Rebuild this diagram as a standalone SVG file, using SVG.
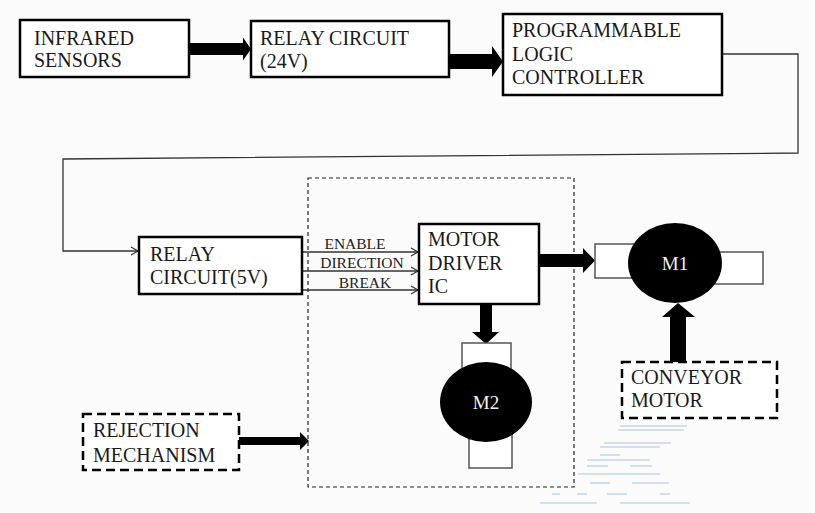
<svg xmlns="http://www.w3.org/2000/svg" width="815" height="513" viewBox="0 0 815 513">
  <defs>
    <marker id="open" markerUnits="userSpaceOnUse" markerWidth="9" markerHeight="10" refX="7" refY="4" orient="auto" overflow="visible">
      <path d="M0,0 L7,4 L0,8" fill="none" stroke="#333" stroke-width="1.2"/>
    </marker>
    <style>
      .box { fill: #ffffff; stroke: #000; stroke-width: 2.5; }
      .dbox { fill: #ffffff; stroke: #000; stroke-width: 2.5; stroke-dasharray: 9 5; }
      .frame { fill: none; stroke: #222; stroke-width: 1.2; stroke-dasharray: 4 3; }
      .thin { fill: none; stroke: #333; stroke-width: 1.3; }
      .fat { fill: #000; stroke: none; }
      .mrect { fill: #fff; stroke: #555; stroke-width: 1.5; }
      text { font-family: "Liberation Serif", "DejaVu Serif", "Times New Roman", serif; }
      .lbl { font-size: 20px; fill: #1a1a1a; }
      .sig { font-size: 15.5px; fill: #222; text-anchor: middle; }
      .mot { font-size: 19px; fill: #f2f2f2; text-anchor: middle; }
      .wm { stroke: #c3d6ee; stroke-width: 1.6; fill: none; }
    </style>
  </defs>

  <rect x="0" y="0" width="815" height="513" fill="#fbfbfb"/>

  <!-- dashed enclosure around driver and M2 -->
  <rect class="frame" x="308" y="178" width="266" height="309"/>

  <!-- connectors -->
  <g id="connectors">
    <path class="fat" d="M189,43 H243 V37.5 L251,49 L243,60.5 V55 H189 Z"/>
    <path class="fat" d="M449,54 H492 V46 L503,61.5 L492,77 V69 H449 Z"/>
    <polyline class="thin" points="722,54 798,54 798,153 63,159 63,251 138,251" marker-end="url(#open)"/>
    <line class="thin" x1="302" y1="252" x2="418" y2="252" marker-end="url(#open)"/>
    <line class="thin" x1="302" y1="271" x2="418" y2="271" marker-end="url(#open)"/>
    <line class="thin" x1="302" y1="290" x2="418" y2="290" marker-end="url(#open)"/>
    <text class="sig" x="355" y="249">ENABLE</text>
    <text class="sig" x="362" y="268">DIRECTION</text>
    <text class="sig" x="365" y="288">BREAK</text>
    <path class="fat" d="M539,254 H583 V248 L595,260.5 L583,273 V267 H539 Z"/>
    <path class="fat" d="M480,303 V332 H472 L486,344 L499,332 H492 V303 Z"/>
    <path class="fat" d="M670,362 V317 H662 L678,303 L695,317 H686 V362 Z"/>
    <path class="fat" d="M239,437 H300 V432 L309,441 L300,450 V445 H239 Z"/>
  </g>

  <g id="infrared">
    <rect class="box" x="20" y="20" width="169" height="57"/>
    <text class="lbl" x="34" y="45">INFRARED</text>
    <text class="lbl" x="34" y="67">SENSORS</text>
  </g>

  <g id="relay24">
    <rect class="box" x="251" y="21" width="198" height="56"/>
    <text class="lbl" x="260" y="45">RELAY CIRCUIT</text>
    <text class="lbl" x="260" y="68">(24V)</text>
  </g>

  <g id="plc">
    <rect class="box" x="503" y="14" width="219" height="81"/>
    <text class="lbl" x="512" y="37">PROGRAMMABLE</text>
    <text class="lbl" x="512" y="61">LOGIC</text>
    <text class="lbl" x="512" y="84">CONTROLLER</text>
  </g>

  <g id="relay5">
    <rect class="box" x="139" y="237" width="163" height="57"/>
    <text class="lbl" x="150" y="261">RELAY</text>
    <text class="lbl" x="150" y="284">CIRCUIT(5V)</text>
  </g>

  <g id="driver">
    <rect class="box" x="419" y="224" width="120" height="80"/>
    <text class="lbl" x="428" y="246">MOTOR</text>
    <text class="lbl" x="428" y="270">DRIVER</text>
    <text class="lbl" x="428" y="293">IC</text>
  </g>

  <g id="m1">
    <rect class="mrect" x="595" y="244" width="60" height="34"/>
    <rect class="mrect" x="700" y="252" width="63" height="32"/>
    <ellipse cx="675" cy="263" rx="47" ry="40" fill="#000"/>
    <text class="mot" x="675" y="270">M1</text>
  </g>

  <g id="m2">
    <rect class="mrect" x="462" y="343" width="49" height="40"/>
    <rect class="mrect" x="469" y="420" width="43" height="48"/>
    <ellipse cx="486" cy="402" rx="46" ry="40" fill="#000"/>
    <text class="mot" x="486" y="409">M2</text>
  </g>

  <g id="conveyor">
    <rect class="dbox" x="622" y="362" width="155" height="56"/>
    <text class="lbl" x="631" y="384">CONVEYOR</text>
    <text class="lbl" x="631" y="407">MOTOR</text>
  </g>

  <g id="rejection">
    <rect class="dbox" x="83" y="414" width="156" height="56"/>
    <text class="lbl" x="93" y="437">REJECTION</text>
    <text class="lbl" x="93" y="462">MECHANISM</text>
  </g>

  <!-- faint blue stripe mark, lower right -->
  <g class="wm">
    <line x1="620" y1="426" x2="687" y2="426"/>
    <line x1="618" y1="430" x2="684" y2="430"/>
    <line x1="604" y1="443" x2="671" y2="443"/>
    <line x1="600" y1="447" x2="660" y2="447"/>
    <line x1="600" y1="455" x2="620" y2="455"/>
    <line x1="587" y1="460" x2="650" y2="460"/>
    <line x1="587" y1="466" x2="608" y2="466"/>
    <line x1="630" y1="466" x2="652" y2="466"/>
    <line x1="578" y1="474" x2="660" y2="474"/>
    <line x1="590" y1="483" x2="610" y2="483"/>
    <line x1="632" y1="483" x2="669" y2="483"/>
    <line x1="552" y1="494" x2="560" y2="494"/>
    <line x1="577" y1="494" x2="587" y2="494"/>
    <line x1="607" y1="494" x2="627" y2="494"/>
    <line x1="660" y1="494" x2="670" y2="494"/>
    <line x1="540" y1="503" x2="597" y2="503"/>
    <line x1="620" y1="503" x2="690" y2="503"/>
  </g>
</svg>
